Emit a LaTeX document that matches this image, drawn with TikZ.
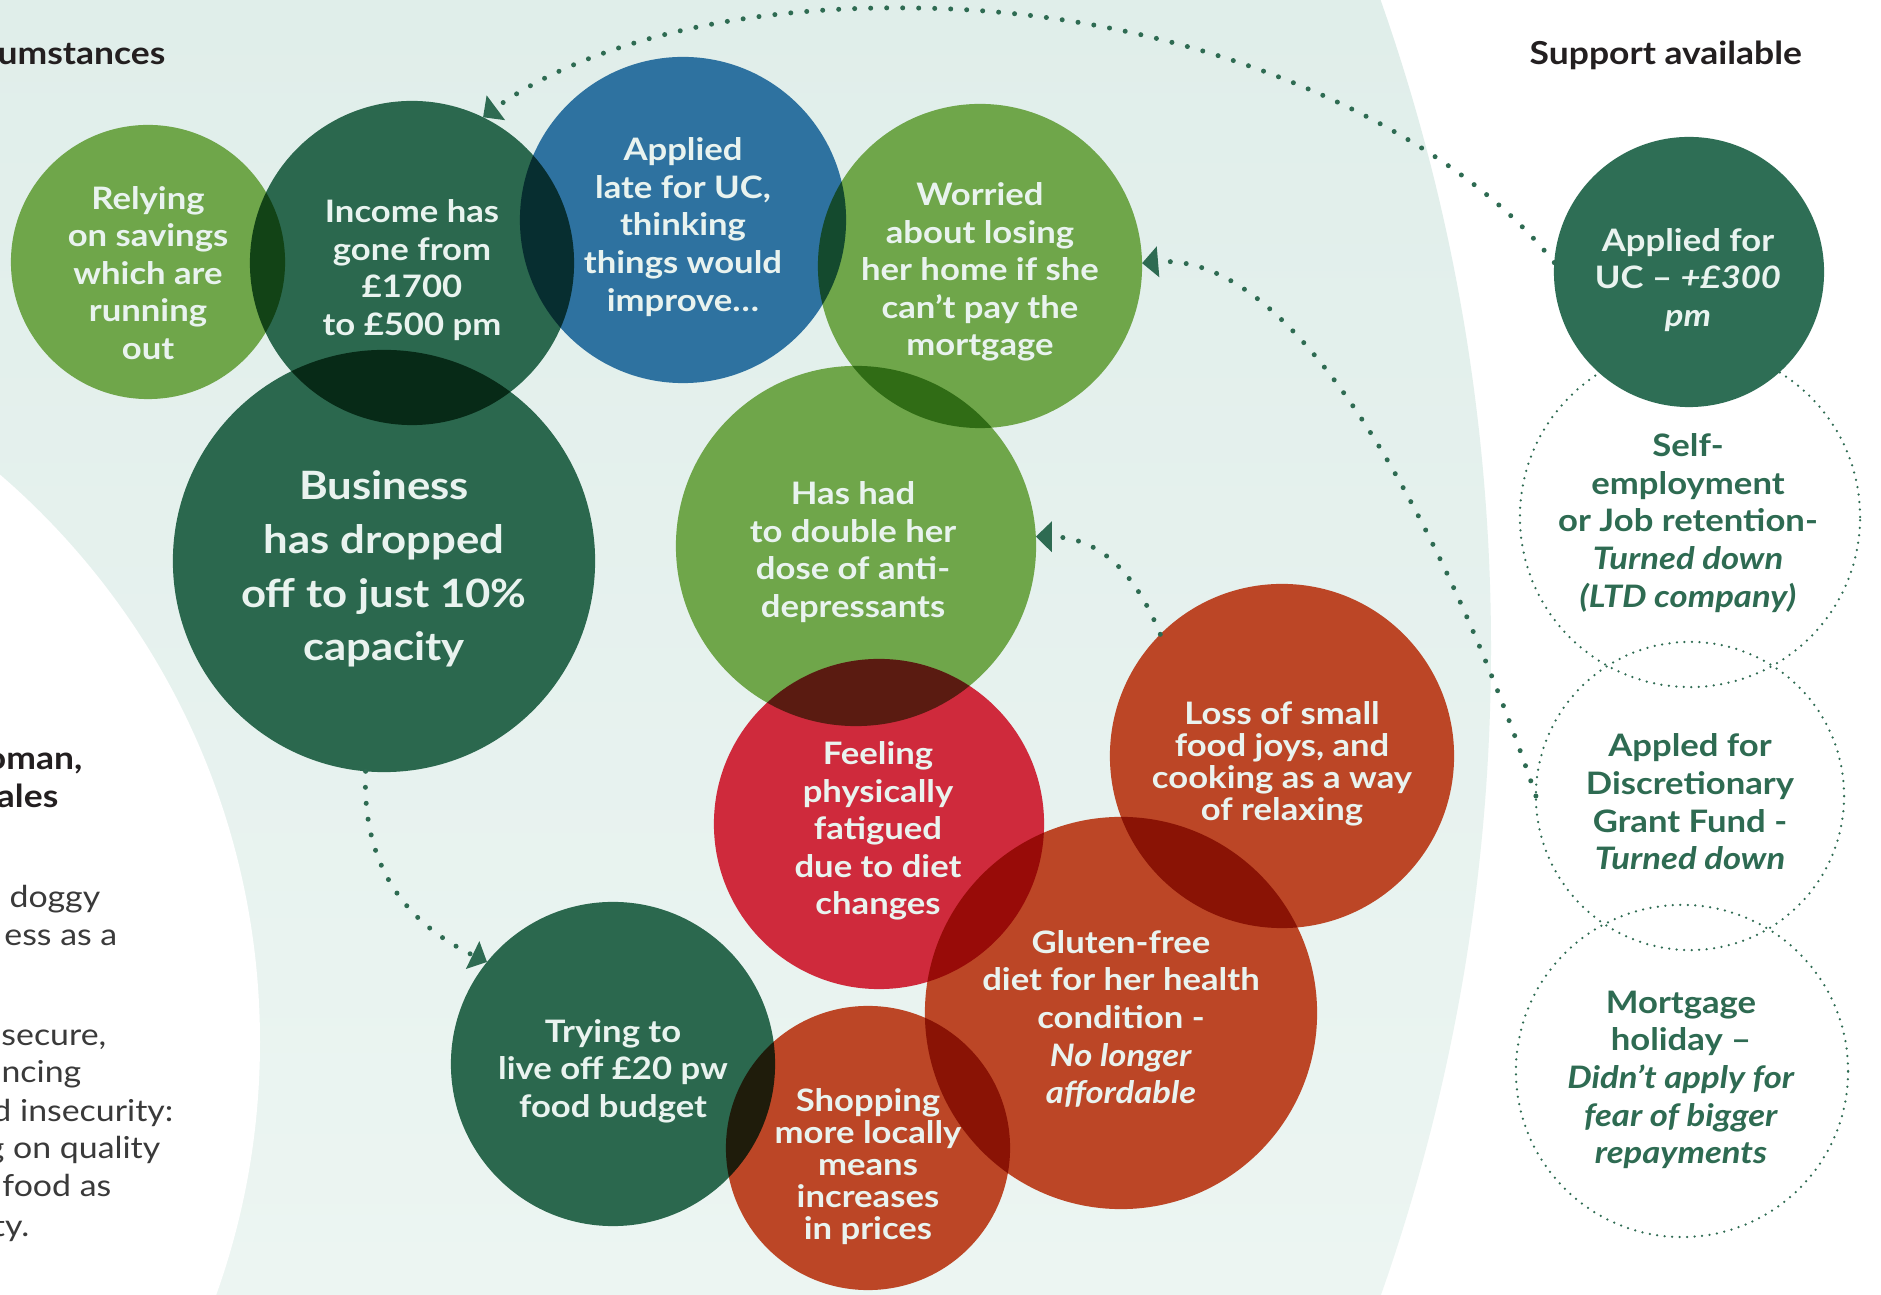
\documentclass[tikz,border=0pt]{standalone}
\usepackage{fontspec}
\setmainfont[FakeStretch=1.12]{Lato}
\usetikzlibrary{arrows.meta}
\definecolor{lgreen}{HTML}{6FA64A}
\definecolor{dgreen}{HTML}{2B684E}
\definecolor{ublue}{HTML}{2E72A0}
\definecolor{crimson}{HTML}{CF2A3C}
\definecolor{rust}{HTML}{BC4626}
\definecolor{ucgreen}{HTML}{2E6E55}
\definecolor{txtw}{HTML}{E9F3EF}
\definecolor{rgreen}{HTML}{2E6B52}
\definecolor{dotc}{HTML}{2E6B52}
\definecolor{headc}{HTML}{231F20}
\definecolor{bodyc}{HTML}{3A3A3A}
\definecolor{tealtop}{HTML}{E0EEEA}
\definecolor{tealbot}{HTML}{ECF5F2}
\begin{document}
\begin{tikzpicture}[x=0.01cm, y=-0.01cm,
  bub/.style={circle, inner sep=0pt, outer sep=0pt, minimum size=#1},
  ctext/.style={text=txtw, align=center, inner sep=0pt, font=\bfseries\fontsize{8.8}{10.7}\selectfont},
  rtext/.style={text=rgreen, align=center, inner sep=0pt, font=\bfseries\fontsize{8.8}{10.7}\selectfont},
  dotline/.style={draw=dotc, line width=0.05cm, dash pattern=on 0pt off 0.16cm, line cap=round,
    -{Triangle[length=1.6mm,width=3mm]}},
  dotcirc/.style={circle, draw=dotc, line width=0.025cm, dash pattern=on 0pt off 0.075cm, line cap=round,
    inner sep=0pt, outer sep=0pt, minimum size=#1},
  lbody/.style={anchor=base east, text=bodyc, inner sep=0pt, font=\fontsize{8.6}{10}\selectfont},
  lhead/.style={anchor=base east, text=headc, inner sep=0pt, font=\bfseries\fontsize{9}{11}\selectfont}
]
\useasboundingbox (0,0) rectangle (1881,1295);
\fill[white] (0,0) rectangle (1881,1295);
\begin{scope}
  \clip (-456,648) circle[radius=1947];
  \shade[top color=tealtop, bottom color=tealbot] (0,0) rectangle (1881,1295);
\end{scope}
\fill[white] (-489,1042) circle[radius=749];

% headings
\node[lhead] (circ) at (166,65) {umstances};
\node[anchor=base west, text=headc, inner sep=0pt, font=\bfseries\fontsize{9}{11}\selectfont] (support) at (1529,65) {Support available};

% left text
\node[lhead] (l1) at (83,770) {oman,};
\node[lhead] (l2) at (59,808) {ales};
\node[lbody] (l3) at (101,908) {doggy};
\node[lbody] (l4) at (118,946) {ess as a};
\node[lbody] (l5) at (107,1046) {secure,};
\node[lbody] (l6) at (82,1083) {ncing};
\node[lbody] (l7) at (174,1122) {d insecurity:};
\node[lbody] (l8) at (161,1159) {g on quality};
\node[lbody] (l9) at (112,1197) {food as};
\node[lbody] (l10) at (30,1237) {ty.};

% overlapping circles
\begin{scope}[blend group=multiply]
  \node[bub=2.74cm, fill=lgreen] (relying) at (148,262) {};
  \node[bub=3.24cm, fill=dgreen] (income) at (412,263) {};
  \node[bub=3.26cm, fill=ublue] (late) at (683,220) {};
  \node[bub=3.24cm, fill=lgreen] (worried) at (980,266) {};
  \node[bub=4.22cm, fill=dgreen] (business) at (384,561) {};
  \node[bub=3.60cm, fill=lgreen] (hashad) at (856,546) {};
  \node[bub=3.30cm, fill=crimson] (feeling) at (879,824) {};
  \node[bub=3.44cm, fill=rust] (loss) at (1282,756) {};
  \node[bub=3.92cm, fill=rust] (gluten) at (1121,1013) {};
  \node[bub=3.24cm, fill=dgreen] (trying) at (613,1064) {};
  \node[bub=2.84cm, fill=rust] (shopping) at (868,1148) {};
\end{scope}

% right column
\node[dotcirc=3.40cm] (selfemp) at (1690,517) {};
\node[dotcirc=3.08cm] (disc) at (1690,796) {};
\node[dotcirc=3.32cm] (mort) at (1682,1071) {};
\node[bub=2.70cm, fill=ucgreen] (uc) at (1689,272) {};

% circle texts
\node[ctext] (trelying) at (148,273) {Relying\\on savings\\which are\\running\\out};
\node[ctext] (tincome) at (412,270) {Income has\\gone from\\£1700\\to £500 pm};
\node[ctext] (tlate) at (683,227) {Applied\\late for UC,\\thinking\\things would\\improve…};
\node[ctext] (tworried) at (980,272) {Worried\\about losing\\her home if she\\can’t pay the\\mortgage};
\node[ctext, font=\bfseries\fontsize{11.1}{15.3}\selectfont] (tbusiness) at (384,569) {Business\\has dropped\\off to just 10\%\\capacity};
\node[ctext] (thashad) at (853,552) {Has had\\to double her\\dose of anti-\\depressants};
\node[ctext] (tfeeling) at (878,831) {Feeling\\physically\\fatigued\\due to diet\\changes};
\node[ctext, font=\bfseries\fontsize{8.8}{9.1}\selectfont] (tloss) at (1282,764) {Loss of small\\food joys, and\\cooking as a way\\of relaxing};
\node[ctext] (tgluten) at (1121,1019) {Gluten-free\\diet for her health\\condition -\\\textit{No longer}\\\textit{affordable}};
\node[ctext] (ttrying) at (613,1071) {Trying to\\live off £20 pw\\food budget};
\node[ctext, font=\bfseries\fontsize{8.8}{9.1}\selectfont] (tshopping) at (868,1167) {Shopping\\more locally\\means\\increases\\in prices};
\node[ctext] (tuc) at (1688,280) {Applied for\\UC – \textit{+£300}\\\textit{pm}};
\node[rtext] (tselfemp) at (1688,523) {Self-\\employment\\or Job retention-\\\textit{Turned down}\\\textit{(LTD company)}};
\node[rtext] (tdisc) at (1690,802) {Appled for\\Discretionary\\Grant Fund -\\\textit{Turned down}};
\node[rtext] (tmort) at (1681,1080) {Mortgage\\holiday –\\\textit{Didn’t apply for}\\\textit{fear of bigger}\\\textit{repayments}};

% dotted connectors
\draw[dotline] (uc.176) .. controls (1450,130) and (1200,10) .. (912,8) .. controls (700,5) and (560,60) .. (income.64);
\draw[dotline] (loss.135) .. controls (1130,560) and (1090,537) .. (hashad.3);
\draw[dotline] (disc.west) .. controls (1450,540) and (1300,250) .. (worried.1);
\draw[dotline] (business.265) .. controls (362,860) and (400,920) .. (trying.141);
\end{tikzpicture}
\end{document}
